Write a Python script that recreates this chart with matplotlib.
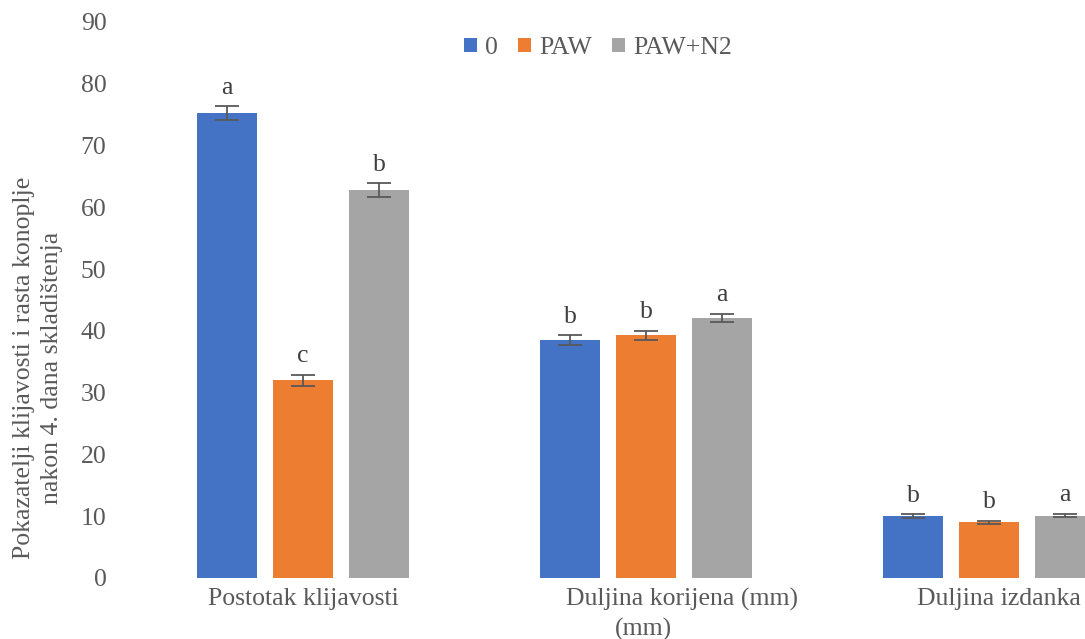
import numpy as np
import matplotlib.pyplot as plt
from matplotlib.transforms import ScaledTranslation

plt.rcParams['font.family'] = ['Liberation Serif', 'DejaVu Serif']

categories = ['Postotak klijavosti', 'Duljina korijena (mm)', 'Duljina izdanka']
series = ['0', 'PAW', 'PAW+N2']
values = [
    [75.3, 38.5, 10.0],
    [32.0, 39.3, 9.0],
    [62.8, 42.1, 10.1],
]
errors = [
    [1.1, 0.8, 0.3],
    [0.9, 0.7, 0.3],
    [1.1, 0.7, 0.3],
]
letters = [
    ['a', 'b', 'b'],
    ['c', 'b', 'b'],
    ['b', 'a', 'a'],
]
colors = ['#4472C4', '#ED7D31', '#A5A5A5']
text_color = '#595959'
fs = 18.5

fig = plt.figure(figsize=(10.85, 6.39), dpi=100)
ax = fig.add_axes([131.5 / 1085, 61 / 639, (1085 - 131.5) / 1085, 556 / 639])

x = np.arange(len(categories))
width = 0.175
step = 0.2216
for i, (name, vals, errs, labs, c) in enumerate(zip(series, values, errors, letters, colors)):
    pos = x + (i - 1) * step
    ax.bar(pos, vals, width, color=c, label=name, zorder=2)
    ax.errorbar(pos, vals, yerr=errs, fmt='none', ecolor='#595959',
                elinewidth=1.3, capsize=8.5, capthick=1.3, zorder=3)
    for px, v, e, t in zip(pos, vals, errs, labs):
        ax.text(px, v + e + 1.2, t, ha='center', va='bottom',
                fontsize=fs, color='#404040')

ax.set_xlim(-0.5, (1085 - 131.5) / 343 - 0.5)
ax.set_ylim(0, 90)
ax.set_yticks(np.arange(0, 91, 10))
ax.set_xticks(x)
ax.set_xticklabels(categories)
ax.tick_params(axis='both', length=0, labelsize=fs, colors=text_color)
ax.tick_params(axis='y', pad=18)
ax.tick_params(axis='x', pad=7)
for s in ax.spines.values():
    s.set_visible(False)

# Excel put the labels slightly off centre
shifts = [0, 36, 10]
for lab, dx in zip(ax.get_xticklabels(), shifts):
    lab.set_transform(lab.get_transform() + ScaledTranslation(dx / 100, 0, fig.dpi_scale_trans))

ax.annotate('(mm)', xy=(1, 0), xycoords=('data', 'axes fraction'), xytext=(-3, -40),
            textcoords='offset pixels', ha='center', va='top', fontsize=fs, color=text_color)

fig.text(38 / 1085, 1 - 368 / 639, 'Pokazatelji klijavosti i rasta konoplje\nnakon 4. dana skladištenja',
         rotation=90, ha='center', va='center', fontsize=fs, color=text_color,
         linespacing=1.4)

leg = ax.legend(loc='center', bbox_to_anchor=(598 / 1085, 1 - 48 / 639), bbox_transform=fig.transFigure,
                ncol=3, frameon=False, fontsize=fs, handlelength=0.5, handleheight=0.5,
                handletextpad=0.3, columnspacing=0.8, labelcolor=text_color)

fig.savefig('out.png', dpi=100)
